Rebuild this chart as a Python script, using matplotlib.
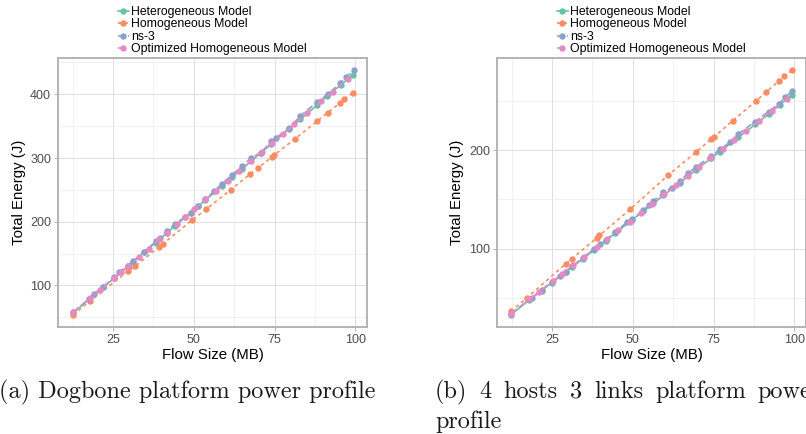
import matplotlib
matplotlib.use("Agg")
import matplotlib.pyplot as plt

# --- data ---
labels = ["Heterogeneous Model", "Homogeneous Model", "ns-3", "Optimized Homogeneous Model"]
colors = ["#66c2a5", "#fc8d62", "#8da0cb", "#e78ac3"]

# (a) Dogbone
a_het_x = [12.7, 17.6, 22.0, 25.3, 29.7, 31.2, 34.6, 38.2, 41.6, 44.3, 49.0, 51.3, 53.6,
           58.8, 61.9, 65.0, 70.7, 74.0, 79.5, 83.0, 88.2, 91.3, 95.6, 99.3]
a_het_y = [57, 78, 97, 111, 130, 137, 152, 167, 182, 194, 214, 224, 234,
           256, 270, 283, 308, 322, 346, 361, 383, 398, 415, 431]
a_hom_x = [12.7, 17.9, 29.6, 31.8, 39.4, 40.4, 49.5, 53.9, 61.4, 67.4, 70.0, 74.3, 74.7,
           81.3, 88.2, 91.4, 95.2, 96.6, 99.2]
a_hom_y = [54, 75.5, 122, 130, 161, 165, 202.6, 220, 250, 274.5, 285, 302, 304,
           330, 358, 371, 386, 393, 402]
a_ns3_x = [12.7, 17.6, 19.1, 22.0, 25.3, 26.9, 29.7, 31.2, 34.6, 38.2, 39.7, 41.6, 44.3,
           47.2, 49.0, 51.3, 53.6, 56.3, 58.8, 61.9, 65.0, 67.6, 70.7, 74.0, 75.6, 79.5,
           83.0, 88.2, 91.5, 95.3, 97.2, 99.5]
a_ns3_y = [58, 79, 87, 98, 113, 121, 131, 138, 152, 169, 175, 185, 197,
           207, 214, 225, 235, 248, 260, 274, 287, 300, 308, 326, 332, 347,
           366, 388, 400, 418, 427, 438]
a_opt_x = [12.7, 17.9, 21.0, 25.3, 27.5, 29.7, 33.0, 36.0, 39.4, 41.6, 44.8, 47.2, 50.2,
           53.6, 57.0, 60.5, 64.0, 67.6, 71.0, 74.3, 77.5, 81.0, 85.0, 89.5, 93.0, 97.7]
a_opt_y = [58, 80, 93, 112, 121, 131, 145, 158, 173, 182, 196, 207, 220,
           235, 249, 264, 279, 295, 310, 323, 337, 353, 370, 389, 404, 424]

# (b) 4 hosts 3 links
b_het_x = [12.3, 18.0, 21.8, 24.9, 29.2, 31.3, 34.7, 38.0, 41.6, 44.5, 49.7, 53.3,
           56.4, 59.5, 64.7, 69.6, 74.2, 77.0, 82.7, 87.9, 92.0, 95.6, 99.2]
b_het_y = [33, 48, 57.5, 65.5, 76, 81.5, 90, 98.5, 108, 115.5, 129, 138,
           146, 154, 167, 180, 191.5, 198.5, 213, 226, 236.5, 246, 256]
b_hom_x = [12.3, 17.2, 29.2, 31.1, 38.8, 39.7, 49.2, 61.0, 69.6, 74.2, 75.0, 81.0,
           88.2, 91.3, 95.1, 96.7, 99.2]
b_hom_y = [36.4, 50, 84.5, 89.6, 110.8, 113.4, 140, 174.7, 198, 211, 213, 230,
           250, 259, 269.7, 274.8, 280.8]
b_ns3_x = [12.3, 18.7, 21.8, 24.9, 27.5, 29.2, 31.3, 34.7, 38.0, 39.9, 41.6, 44.5,
           48.1, 49.7, 53.3, 55.1, 56.4, 59.5, 62.1, 64.7, 67.2, 69.6, 74.2, 77.0,
           80.1, 82.7, 87.9, 92.0, 95.1, 97.2, 99.2]
b_ns3_y = [34, 50, 58, 66.7, 72.7, 76.8, 82, 91, 99.7, 104.7, 109, 116.5,
           126.6, 130, 139, 144, 148.5, 157, 162, 168.7, 177, 182.8, 194, 200.7,
           208, 216.5, 229, 239, 246.8, 253.5, 259.6]
b_opt_x = [12.3, 17.9, 21.0, 25.3, 28.0, 31.6, 35.0, 38.8, 42.0, 45.5, 49.0, 52.5,
           56.0, 59.8, 63.5, 67.0, 70.5, 74.0, 77.8, 81.3, 85.0, 89.0, 93.0, 97.6]
b_opt_y = [34, 48.5, 56, 67, 74, 83, 92, 101.5, 109.5, 118.5, 127.5, 136.5,
           145.5, 155, 164.5, 173.5, 182.5, 191.5, 201, 210, 219.5, 229.5, 240, 252]

x_major = [25, 50, 75, 100]
x_minor = [12.5, 37.5, 62.5, 87.5]

plt.rcParams["font.family"] = ["Liberation Sans", "DejaVu Sans"]

W, H = 806, 434
fig = plt.figure(figsize=(W / 100, H / 100), dpi=100)

dashes = [None, (2, 2), (4, 2), (4, 4)]


def panel(left_px, series, ylim, y_major, y_minor):
    ax = fig.add_axes([left_px / W, 1 - 327 / H, 309 / W, 269 / H])
    for (x, y), c, lab, d in zip(series, colors, labels, dashes):
        ln, = ax.plot(x, y, color=c, lw=1.2, marker="o", ms=3.6, mec=c, label=lab)
        if d is not None:
            ln.set_dashes(d)
    ax.set_xlim(8, 103.6)
    ax.set_ylim(*ylim)
    ax.set_xticks(x_major)
    ax.set_xticks(x_minor, minor=True)
    ax.set_yticks(y_major)
    ax.set_yticks(y_minor, minor=True)
    ax.grid(which="major", color="#dedede", lw=0.7)
    ax.grid(which="minor", color="#ececec", lw=0.5)
    ax.set_axisbelow(True)
    for s in ax.spines.values():
        s.set_color("#b3b3b3")
        s.set_linewidth(1.4)
    ax.tick_params(which="major", direction="out", length=2.75, width=0.7,
                   color="#b3b3b3", labelcolor="#4d4d4d", labelsize=9, pad=2.2)
    ax.tick_params(which="minor", length=0)
    ax.set_xlabel("Flow Size (MB)", fontsize=10.8, va="center")
    ax.xaxis.set_label_coords(0.5, (327 - 355) / 269)
    ax.set_ylabel("Total Energy (J)", fontsize=10.8, va="center")
    ax.yaxis.set_label_coords(-0.126, 0.5)
    cx = (left_px + 154.5) / W
    ax.legend(loc="upper center", bbox_to_anchor=(cx, 1 - 6 / H),
              bbox_transform=fig.transFigure, frameon=False, fontsize=8.8,
              handlelength=0.9, handletextpad=0.2, labelspacing=0.04,
              borderpad=0, borderaxespad=0, numpoints=1)
    return ax


panel(58, [(a_het_x, a_het_y), (a_hom_x, a_hom_y), (a_ns3_x, a_ns3_y), (a_opt_x, a_opt_y)],
      (34.8, 457), [100, 200, 300, 400], [50, 150, 250, 350, 450])
ax_b = panel(497, [(b_het_x, b_het_y), (b_hom_x, b_hom_y), (b_ns3_x, b_ns3_y), (b_opt_x, b_opt_y)],
             (20.6, 293.4), [100, 200], [50, 150, 250])
ax_b.yaxis.set_label_coords(-0.129, 0.5)

# captions (the second one is justified and runs past the right edge, as in the page scan)
cap = dict(family="cmr10", fontsize=17.5, va="baseline", ha="left", color="#1a1a1a")
fig.text(-1 / W, 1 - 398 / H, "(a) Dogbone platform power profile", **cap)
renderer = fig.canvas.get_renderer()
xp = 435
for w in ["(b)", "4", "hosts", "3", "links", "platform", "power"]:
    t = fig.text(xp / W, 1 - 398 / H, w, **cap)
    bb = t.get_window_extent(renderer)
    xp = bb.x1 + 12
fig.text(435 / W, 1 - 428 / H, "profile", **cap)

fig.savefig("out.png", dpi=100)
